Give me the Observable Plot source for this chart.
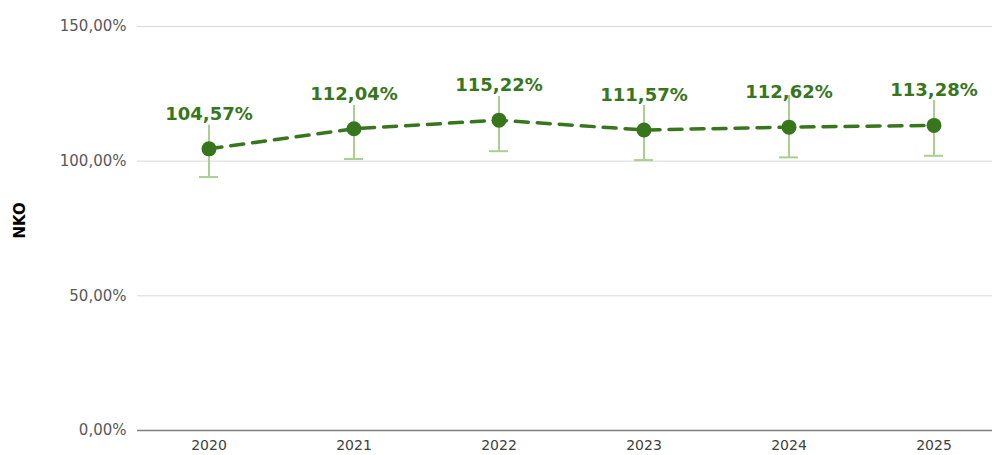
<!DOCTYPE html>
<html>
<head>
<meta charset="utf-8">
<script src="https://cdn.jsdelivr.net/npm/d3@7"></script>
<script src="https://cdn.jsdelivr.net/npm/@observablehq/plot@0.6"></script>
<style>
  html, body { margin: 0; padding: 0; background: #fff; }
  #chart svg { display: block; }
</style>
</head>
<body>
<div id="chart"></div>
<script>
const years = ["2020", "2021", "2022", "2023", "2024", "2025"];
const values = [104.57, 112.04, 115.22, 111.57, 112.62, 113.28];
const errLow = [94.1, 100.8, 103.7, 100.4, 101.4, 102.0];
const errHigh = [113.3, 120.7, 124.0, 120.7, 124.4, 122.5];
const yTicks = [0, 50, 100, 150];
const yTitle = "NKO";

const fmt = d => d.toFixed(2).replace(".", ",") + "%";
const data = years.map((year, i) => ({year, value: values[i], low: errLow[i], high: errHigh[i]}));

const dark = "#38761d";
const light = "#a9d08e";

const chart = Plot.plot({
  width: 992,
  height: 455,
  marginLeft: 137,
  marginRight: 0,
  marginTop: 26,
  marginBottom: 25,
  style: {fontFamily: "DejaVu Sans, sans-serif", background: "#fff"},
  x: {type: "band", domain: years, range: [135.5, 1005.5], padding: 0, label: null},
  y: {domain: [0, 150], label: null},
  marks: [
    Plot.gridY(yTicks.filter(d => d > 0), {stroke: "#d9d9d9", strokeOpacity: 1, strokeWidth: 1}),
    Plot.ruleY([0], {stroke: "#7f7f7f", strokeWidth: 1.3}),
    Plot.axisY({ticks: yTicks, tickSize: 0, tickPadding: 11, tickFormat: fmt, fontSize: 15, color: "#595959", label: null}),
    Plot.axisX({tickSize: 0, tickPadding: 10, fontSize: 14, color: "#404040", label: null}),
    Plot.text([yTitle], {frameAnchor: "left", dx: -117, dy: 10, rotate: -90, fontWeight: "bold", fontSize: 15, fill: "#000"}),
    Plot.ruleX(data, {x: "year", y1: "low", y2: "high", stroke: light, strokeWidth: 2}),
    Plot.tickY(data, {x: "year", y: "low", stroke: light, strokeWidth: 2, insetLeft: 63, insetRight: 63}),
    Plot.line(data, {x: "year", y: "value", stroke: dark, strokeWidth: 3.5, strokeDasharray: "13,9"}),
    Plot.dot(data, {x: "year", y: "value", r: 7.5, fill: dark, stroke: "none"}),
    Plot.text(data, {x: "year", y: "value", text: d => fmt(d.value), dy: -35, fontSize: 18, fontWeight: "bold", fill: dark})
  ]
});
document.getElementById("chart").appendChild(chart);
</script>
</body>
</html>
